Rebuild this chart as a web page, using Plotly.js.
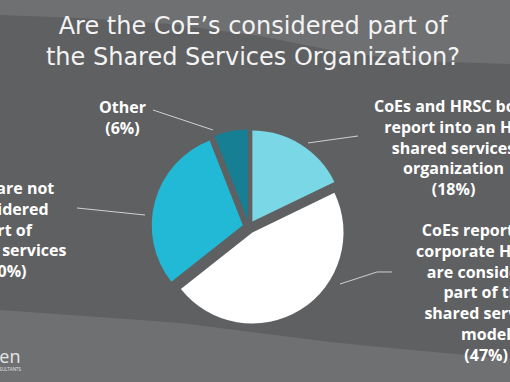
<!DOCTYPE html>
<html><head><meta charset="utf-8">
<script src="https://cdn.plot.ly/plotly-3.0.1.min.js"></script>
<style>html,body{margin:0;padding:0;background:#5f6062;overflow:hidden}#chart{width:510px;height:382px;}</style>
</head><body><div id="chart"></div>
<script>
// ---- data ----
const categories = [
  "CoEs and HRSC both report into an HR shared services organization",
  "CoEs report into corporate HR and are considered part of the shared services model",
  "CoEs are not considered part of shared services",
  "Other"
];
const values = [18, 47, 30, 6];
const labelLines = [
  ["CoEs and HRSC both", "report into an HR", "shared services", "organization", "(18%)"],
  ["CoEs report into", "corporate HR and", "are considered", "part of the", "shared services", "model", "(47%)"],
  ["CoEs are not", "considered", "part of", "shared services", "(30%)"],
  ["Other", "(6%)"]
];
const sliceColors = ["#79d7e6", "#ffffff", "#22b9d6", "#177f93"];
const titleText = "Are the CoE\u2019s considered part of<br>the Shared Services Organization?";

// ---- layout helpers ----
const W = 510, H = 382;
const fx = x => x / W, fy = y => 1 - y / H;
const pathFrom = pts => 'M' + pts.map(p => fx(p[0]).toFixed(4) + ',' + fy(p[1]).toFixed(4)).join(' L') ;

const labelPos = [[453, 147], [486, 292], [4, 229], [122, 118]];
const leaders = [
  [[308, 143], [358, 136]],
  [[340, 284], [377, 272], [392, 272]],
  [[77, 208], [145, 215]],
  [[153, 110], [213, 130]]
];

const bgShapes = [
  {type: 'path', xref: 'paper', yref: 'paper', layer: 'below', line: {width: 0}, fillcolor: '#6f7072',
   path: pathFrom([[0,0],[0,15],[80,18],[170,24],[260,36],[340,52],[420,61],[510,64],[510,0]]) + ' Z'},
  {type: 'path', xref: 'paper', yref: 'paper', layer: 'below', line: {width: 0}, fillcolor: '#6f7072',
   path: pathFrom([[0,310],[140,320],[180,323],[330,342],[380,347],[510,359],[510,382],[0,382]]) + ' Z'}
];
const leaderShapes = leaders.map(pts => ({
  type: 'path', xref: 'paper', yref: 'paper', line: {color: '#cfd0d1', width: 1}, path: pathFrom(pts)
}));

const labelAnns = labelLines.map((lines, i) => ({
  xref: 'paper', yref: 'paper', x: fx(labelPos[i][0]), y: fy(labelPos[i][1]),
  xanchor: 'center', yanchor: 'middle', align: 'center', showarrow: false,
  text: lines.join('<br>'),
  font: {family: 'Open Sans', size: 16, color: '#ffffff', weight: 'bold'}
}));
labelAnns.push({
  xref: 'paper', yref: 'paper', x: fx(23), y: fy(356), xanchor: 'right', yanchor: 'middle', showarrow: false,
  text: 'ScottMadden', font: {family: 'Open Sans', size: 18, color: '#e6e6e6'}
});
labelAnns.push({
  xref: 'paper', yref: 'paper', x: fx(23), y: fy(369), xanchor: 'right', yanchor: 'middle', showarrow: false,
  text: 'MANAGEMENT CONSULTANTS', font: {family: 'Open Sans', size: 4.5, color: '#e6e6e6'}
});

const trace = {
  type: 'pie', labels: categories, values: values, sort: false, direction: 'clockwise', rotation: 0,
  pull: [0.07, 0.07, 0.07, 0.07], textinfo: 'none', hoverinfo: 'none',
  marker: {colors: sliceColors, line: {width: 0}},
  domain: {x: [fx(151.5), fx(346.5)], y: [fy(324.5), fy(129.5)]},
  showlegend: false
};

const layout = {
  width: W, height: H, margin: {l: 0, r: 0, t: 0, b: 0},
  paper_bgcolor: '#5f6062', plot_bgcolor: '#5f6062', showlegend: false,
  title: {text: titleText, font: {family: 'DejaVu Sans', size: 24, color: '#f3f3f3'},
          x: fx(253), xanchor: 'center', xref: 'paper', yref: 'container', y: fy(34), yanchor: 'middle'},
  shapes: bgShapes.concat(leaderShapes),
  annotations: labelAnns
};
Plotly.newPlot('chart', [trace], layout, {displayModeBar: false, staticPlot: true});
</script></body></html>
